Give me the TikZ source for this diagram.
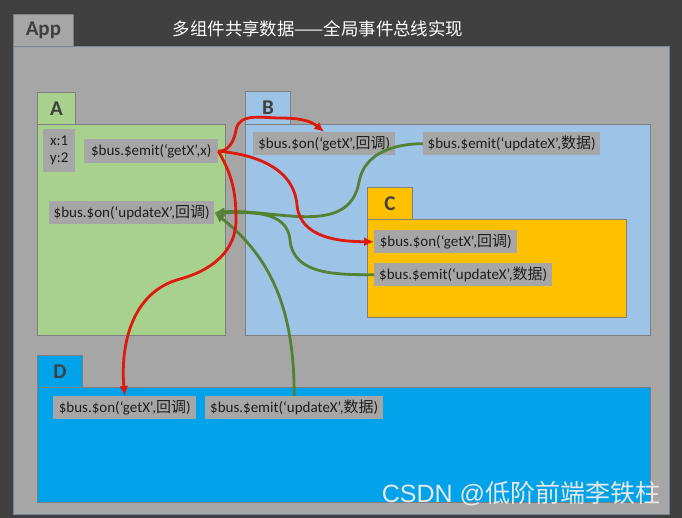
\documentclass[tikz,border=0pt]{standalone}
\usepackage{fontspec}
\setmainfont{Carlito}
\newfontfamily\cjk{Noto Sans CJK SC}
\newfontfamily\wmfont{Liberation Sans}
\usetikzlibrary{arrows.meta}
\definecolor{bgdark}{HTML}{404040}
\definecolor{appgray}{HTML}{A6A6A6}
\definecolor{appline}{HTML}{7A8599}
\definecolor{panelline}{HTML}{7F7F7F}
\definecolor{agreen}{HTML}{A9D18E}
\definecolor{bblue}{HTML}{9DC3E6}
\definecolor{cyellow}{HTML}{FFC000}
\definecolor{dblue}{HTML}{00A2EA}
\definecolor{lblgray}{HTML}{A6A6A6}
\definecolor{txtdark}{HTML}{1E1E1E}
\definecolor{tabtxt}{HTML}{404040}
\definecolor{redline}{HTML}{DD1A0C}
\definecolor{greenline}{HTML}{548235}
\newcommand{\hd}{{\cjk 回调}}
\newcommand{\sj}{{\cjk 数据}}
\begin{document}
\begin{tikzpicture}[x=1pt,y=1pt,
  panel/.style={draw=panelline, line width=0.8pt, inner sep=0pt, anchor=north west},
  tabbox/.style={panel, font=\fontsize{21}{21}\selectfont\bfseries, text=tabtxt},
  lbl/.style={fill=lblgray, inner sep=0pt, anchor=north west, text=txtdark,
              font=\fontsize{15}{17}\selectfont, minimum height=23pt},
  redarrow/.style={draw=redline, line width=2.8pt, -{Latex[length=10pt,width=9pt]}},
  greenarrow/.style={draw=greenline, line width=2.8pt, -{Latex[length=10pt,width=9pt]}}
]
\fill[bgdark] (0,0) rectangle (682,-518);
\useasboundingbox (0,0) rectangle (682,-518);

% App
\node[tabbox, fill=appgray, minimum width=60pt, minimum height=32pt] (apptab) at (13,-14) {App};
\node[panel, draw=appline, fill=appgray, minimum width=656pt, minimum height=468pt] (appbody) at (13,-46) {};
\node[text=white, font=\cjk\fontsize{17.4}{18}\selectfont] (title) at (318,-29) {多组件共享数据——全局事件总线实现};

% A
\node[tabbox, fill=agreen, minimum width=38pt, minimum height=32pt] (atab) at (37,-92) {A};
\node[panel, fill=agreen, minimum width=188pt, minimum height=211pt] (abody) at (37,-124) {};
% B
\node[tabbox, fill=bblue, minimum width=45pt, minimum height=33pt] (btab) at (245,-91) {B};
\node[panel, fill=bblue, minimum width=405pt, minimum height=211pt] (bbody) at (245,-124) {};
% C
\node[tabbox, fill=cyellow, minimum width=45pt, minimum height=32pt] (ctab) at (367,-187) {C};
\node[panel, fill=cyellow, minimum width=259pt, minimum height=98pt] (cbody) at (367,-219) {};
% D
\node[tabbox, fill=dblue, minimum width=45pt, minimum height=32pt] (dtab) at (37,-355) {D};
\node[panel, fill=dblue, minimum width=613pt, minimum height=115pt] (dbody) at (37,-387) {};

% labels
\node[lbl, minimum width=32pt, minimum height=43pt, align=center, font=\fontsize{15}{17}\selectfont] (xy) at (43,-129) {x:1\\y:2};
\node[lbl, minimum width=134pt, minimum height=24pt] (aemit) at (84,-139) {\$bus.\$emit(‘getX’,x)};
\node[lbl, minimum width=165pt] (aon) at (49,-201) {\$bus.\$on(‘updateX’,\hd)};
\node[lbl, minimum width=142pt] (bon) at (253,-132) {\$bus.\$on(‘getX’,\hd)};
\node[lbl, minimum width=177pt] (bemit) at (423,-132) {\$bus.\$emit(‘updateX’,\sj)};
\node[lbl, minimum width=143pt] (con) at (374,-230) {\$bus.\$on(‘getX’,\hd)};
\node[lbl, minimum width=178pt] (cemit) at (374,-263) {\$bus.\$emit(‘updateX’,\sj)};
\node[lbl, minimum width=143pt] (don) at (53,-396) {\$bus.\$on(‘getX’,\hd)};
\node[lbl, minimum width=178pt] (demit) at (205,-396) {\$bus.\$emit(‘updateX’,\sj)};

% green arrows
\draw[greenarrow] (bemit.west) to[out=180,in=80] (359,-182) to[out=-100,in=5] (aon.east);
\draw[greenarrow] (cemit.west) to[out=180,in=-85] (290,-240) to[out=95,in=0] (aon.east);
\draw[greenarrow] (demit.north) to[out=90,in=-38] (aon.east);

% red arrows
\draw[redarrow] (aemit.east) to[out=0,in=-100] (236,-130) to[out=80,in=180] (280,-118) to[out=0,in=140] (bon.north);
\draw[redarrow] (aemit.east) to[out=-5,in=95] (297,-205) to[out=-85,in=180] (con.west);
\draw[redarrow] (aemit.east) to[out=-60,in=90] (236,-220) to[out=-90,in=15] (180,-279) to[out=195,in=95] (don.north);

% watermark
\node[text=white!82!gray, font=\fontsize{25}{26}\selectfont] (wm) at (521,-494) {{\wmfont CSDN @}{\cjk 低阶前端李铁柱}};
\end{tikzpicture}
\end{document}
